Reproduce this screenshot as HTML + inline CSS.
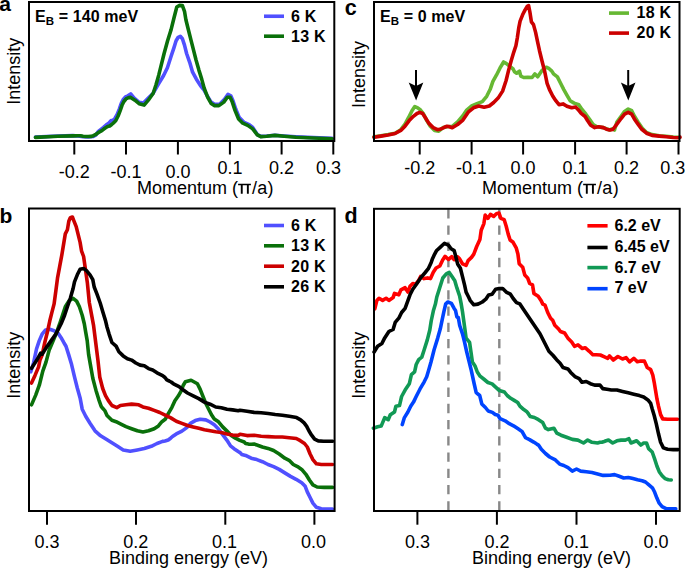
<!DOCTYPE html>
<html><head><meta charset="utf-8"><style>
html,body{margin:0;padding:0;background:#fff;}
svg{display:block;}
text{font-family:"Liberation Sans",sans-serif;fill:#000;}
</style></head><body>
<svg width="685" height="568" viewBox="0 0 685 568">
<rect width="685" height="568" fill="#fff"/>
<g id="pa">
<polyline points="35.5,137.1 57.9,136.0 72.9,135.6 78.0,136.0 83.1,136.7 88.2,136.9 93.3,136.5 95.9,134.9 98.4,131.4 101.0,129.3 103.5,127.3 106.1,125.0 108.7,123.2 111.2,120.6 113.0,120.3 114.9,118.4 117.3,114.2 119.2,109.3 121.2,103.5 123.1,99.7 125.5,96.8 127.9,95.8 130.7,93.9 134.2,98.1 139.1,102.3 143.4,103.0 148.3,98.1 153.2,93.2 158.1,84.7 163.6,75.5 167.4,67.7 171.1,56.3 173.9,47.9 176.1,40.8 178.2,37.3 180.3,36.3 182.4,38.7 184.5,45.1 186.6,53.5 189.7,62.3 192.6,72.2 196.4,79.2 200.6,85.9 204.1,90.1 207.6,96.5 211.1,102.1 214.6,104.2 219.6,104.2 224.5,99.3 228.0,94.4 230.8,95.8 233.0,100.7 235.8,109.2 239.3,117.6 244.2,122.5 249.2,124.6 252.7,127.5 257.3,134.6 260.8,136.4 266.7,136.0 274.9,135.2 284.2,136.0 295.9,136.8 307.6,137.4 319.2,137.8 332.1,138.3" fill="none" stroke="#5050ff" stroke-width="3.6" stroke-linejoin="round" stroke-linecap="round"/>
<polyline points="35.5,137.4 57.9,136.3 72.9,135.9 78.0,135.7 80.6,135.7 83.1,136.2 85.7,136.5 88.2,136.5 90.8,136.4 93.3,135.7 95.4,134.7 97.4,133.2 99.5,131.9 101.5,130.9 103.5,129.3 105.6,127.8 107.6,126.5 109.7,126.0 111.7,124.5 113.2,123.2 115.7,120.8 118.1,116.0 120.0,111.1 122.0,105.3 123.9,101.5 126.3,98.6 128.7,97.6 130.7,97.4 134.9,100.2 139.1,103.7 144.1,105.1 148.3,100.2 153.2,93.2 156.0,84.7 158.8,74.9 160.6,67.6 164.1,53.5 167.6,40.8 171.1,29.6 173.9,18.3 176.8,7.0 179.6,5.4 182.4,5.6 184.5,11.3 185.9,19.7 188.0,28.2 190.8,39.4 193.6,50.4 196.1,60.2 198.9,70.1 201.7,79.1 204.1,88.0 207.6,97.2 211.1,103.5 214.6,105.6 218.9,105.6 223.8,102.1 227.3,97.2 230.1,97.2 232.3,102.1 235.1,110.6 238.6,119.0 242.8,123.2 247.7,125.4 252.7,128.9 257.3,134.8 260.8,136.6 266.7,136.2 274.9,135.4 284.2,136.2 295.9,137.2 307.6,137.8 319.2,138.3 332.1,138.9" fill="none" stroke="#0a700a" stroke-width="3.6" stroke-linejoin="round" stroke-linecap="round"/>
</g>
<g id="pc">
<polyline points="374.0,136.8 381.0,135.8 388.1,134.6 395.1,133.2 400.8,129.7 405.0,124.1 408.5,117.7 412.0,110.7 414.8,106.5 417.7,107.9 420.5,110.0 423.3,113.5 426.8,120.6 430.3,126.2 434.6,130.4 438.8,131.1 443.0,127.6 447.1,126.8 452.3,126.3 457.6,121.9 462.9,115.7 466.4,110.4 471.7,106.0 477.0,103.7 482.3,101.6 486.7,96.3 490.2,89.3 492.9,81.4 496.4,75.2 499.9,68.2 503.6,62.0 506.1,63.4 509.6,66.2 513.1,69.0 514.5,71.8 516.6,73.2 519.4,71.1 520.8,76.1 523.7,77.5 527.9,77.2 532.1,77.5 534.9,73.9 537.7,76.8 542.0,70.4 546.2,67.2 549.2,68.7 551.8,71.1 553.5,73.8 557.4,76.9 560.6,83.3 563.8,89.6 566.9,95.2 570.1,100.7 574.1,103.1 578.8,104.7 582.0,109.4 585.9,114.2 589.9,119.7 593.1,124.5 597.0,126.8 603.4,127.6 609.7,130.0 612.7,128.7 614.5,130.0 616.9,122.0 621.1,116.3 624.6,111.4 628.2,109.0 631.7,110.7 634.5,116.3 638.0,122.0 642.3,128.3 646.5,132.5 652.1,134.6 659.2,135.8 666.2,136.3 673.2,137.0 678.2,137.2" fill="none" stroke="#66b833" stroke-width="3.6" stroke-linejoin="round" stroke-linecap="round"/>
<polyline points="374.0,137.2 381.0,136.1 388.1,134.9 395.1,133.5 400.8,130.4 405.0,126.2 409.2,120.6 413.4,116.3 417.0,113.5 419.8,112.4 422.6,113.5 425.4,117.7 428.9,123.4 433.2,127.6 437.4,129.7 440.9,129.0 444.4,127.3 447.0,126.3 448.6,126.5 452.3,127.7 457.6,124.5 462.9,120.1 468.2,112.2 473.5,107.8 478.8,106.0 484.1,107.3 489.3,106.0 493.7,102.5 498.1,98.1 502.6,91.1 506.1,80.5 508.7,69.9 511.2,60.7 513.8,52.1 515.9,45.8 517.3,38.0 518.7,28.2 520.1,21.1 522.6,14.8 525.1,9.9 527.2,6.3 528.6,5.6 530.0,12.7 531.4,21.8 533.5,24.6 535.6,32.4 537.7,42.3 539.5,50.7 542.2,61.7 544.5,70.7 547.1,83.3 549.5,89.6 552.7,96.0 555.8,100.7 559.0,104.7 563.0,103.9 566.9,106.2 571.7,107.8 575.6,107.0 578.0,109.4 581.2,113.4 585.1,116.5 587.5,120.5 590.7,125.3 594.7,127.6 598.6,126.8 603.4,127.6 606.5,129.2 609.7,130.0 612.8,129.5 616.9,124.1 621.1,118.5 624.6,114.2 628.2,112.4 631.7,114.2 634.5,119.2 638.0,124.1 641.5,129.0 646.5,133.2 652.1,135.4 659.2,136.1 666.2,136.8 673.2,137.5 678.2,137.7 680.0,137.2" fill="none" stroke="#cc0000" stroke-width="3.6" stroke-linejoin="round" stroke-linecap="round"/>
</g>
<g id="pb">
<polyline points="30.8,371.8 33.6,362.7 36.5,349.0 39.3,340.6 42.1,334.2 45.6,330.0 49.8,329.3 54.1,330.7 58.3,333.5 61.1,337.7 63.9,342.7 66.0,346.2 68.8,355.1 71.3,363.4 74.5,376.8 77.3,388.0 80.1,397.9 82.2,409.2 85.7,416.2 90.0,423.2 95.0,430.8 100.6,435.8 106.3,439.3 111.9,442.8 117.5,446.3 123.2,449.9 130.2,451.3 137.3,449.9 144.3,448.5 151.3,446.3 157.0,443.5 162.6,441.4 165.0,441.0 168.2,440.0 170.6,438.2 172.5,436.5 176.3,433.9 181.9,431.1 186.8,427.6 190.4,423.4 195.3,420.6 200.2,419.2 205.8,419.9 210.1,422.0 214.3,424.8 218.5,429.0 222.7,434.6 227.0,440.3 230.5,445.9 234.0,448.7 238.2,451.5 240.0,452.6 241.8,454.4 245.6,455.4 251.2,458.2 256.8,459.6 262.4,461.7 268.0,464.5 273.6,466.6 279.2,469.4 284.8,472.9 290.5,476.4 296.1,479.3 301.7,482.8 305.2,486.3 307.3,491.9 310.1,497.5 312.9,503.1 316.4,507.3 321.3,508.7 326.9,509.0 332.5,509.0" fill="none" stroke="#5050ff" stroke-width="3.6" stroke-linejoin="round" stroke-linecap="round"/>
<polyline points="31.5,404.9 35.7,395.1 39.3,385.2 42.8,371.1 46.0,362.1 49.1,350.4 52.6,342.0 56.2,333.5 59.7,323.7 62.5,315.2 65.3,306.8 68.8,301.1 73.1,298.3 76.6,301.1 79.4,306.8 82.2,315.2 84.3,323.7 85.7,332.1 87.2,340.6 88.6,354.4 90.3,364.1 92.8,378.2 96.0,390.4 98.8,399.6 101.2,406.3 102.7,408.3 104.8,410.6 107.0,415.4 111.9,420.3 116.1,421.7 120.4,423.8 126.0,426.6 131.6,428.7 137.3,430.8 142.9,432.0 148.5,430.8 154.2,428.7 158.4,425.9 161.9,421.7 165.2,419.3 168.4,413.3 171.9,407.3 174.9,400.7 178.4,395.8 181.2,390.8 183.3,385.2 185.4,381.7 191.1,380.3 197.4,383.8 200.2,389.4 203.0,396.5 205.8,403.5 208.7,409.2 211.5,414.8 214.3,419.0 218.5,421.8 222.7,426.9 227.0,431.1 231.2,435.4 235.4,438.2 239.8,440.4 244.2,442.0 245.6,443.5 248.5,444.1 251.2,444.2 254.1,444.1 256.8,444.9 258.3,445.5 262.4,447.0 268.0,448.4 273.6,450.5 279.2,454.0 284.8,458.2 289.1,460.3 293.3,464.5 297.5,466.6 301.7,469.4 305.9,474.3 309.4,480.0 312.9,484.9 317.1,487.0 324.1,487.4 332.5,487.4" fill="none" stroke="#0a700a" stroke-width="3.6" stroke-linejoin="round" stroke-linecap="round"/>
<polyline points="31.5,383.1 35.0,375.4 38.6,366.9 40.0,360.0 42.1,355.1 44.9,342.0 47.7,330.7 49.8,320.8 51.9,312.4 54.1,303.9 55.9,290.6 57.6,277.6 59.7,266.3 61.8,255.1 63.9,242.4 65.3,233.9 67.4,229.7 68.8,221.3 70.3,217.7 72.4,217.0 73.8,220.6 76.2,226.6 78.0,233.9 80.1,242.4 81.5,250.8 83.6,256.5 85.0,266.3 87.4,283.1 89.3,302.5 91.4,313.8 93.5,325.1 97.9,359.9 99.8,377.2 102.7,388.5 105.5,395.6 108.4,400.6 111.9,405.5 116.8,407.6 120.4,405.5 126.0,404.8 131.6,404.1 138.7,404.8 142.9,406.9 148.5,408.3 154.2,410.4 159.8,412.5 165.2,415.1 170.8,417.9 176.3,421.3 181.9,423.4 187.5,425.5 193.2,426.9 198.8,428.3 204.4,429.7 210.1,430.8 215.7,431.8 221.3,432.5 227.0,433.9 232.6,435.1 238.2,435.4 240.0,434.2 247.0,435.6 254.1,435.2 261.1,436.3 268.2,436.6 275.2,437.0 282.3,437.0 289.3,437.7 296.3,438.5 300.3,440.7 304.5,443.5 307.3,447.0 310.1,454.0 312.9,459.6 316.4,463.8 321.3,464.5 326.9,464.5 332.5,464.5" fill="none" stroke="#cc0000" stroke-width="3.6" stroke-linejoin="round" stroke-linecap="round"/>
<polyline points="31.5,368.3 36.5,360.6 40.7,353.2 42.1,354.2 46.3,347.6 51.2,340.6 56.2,333.5 61.1,323.7 64.6,315.2 67.4,306.8 70.3,298.3 73.1,288.5 74.5,281.8 77.3,274.8 80.1,269.2 83.6,268.5 86.5,270.6 90.0,274.8 92.8,279.7 94.2,287.0 97.0,294.1 100.2,303.0 102.7,311.5 105.5,320.6 107.0,327.0 109.1,334.1 111.9,342.5 116.1,346.1 118.9,351.7 123.2,355.9 127.4,358.7 131.6,360.1 135.8,363.0 140.1,365.1 144.3,365.8 148.5,368.6 152.7,370.0 157.0,372.8 162.6,375.6 165.0,377.5 166.8,379.9 169.2,381.0 171.1,382.0 173.5,383.8 179.1,386.6 183.3,390.1 187.5,393.0 193.2,395.8 198.8,398.6 204.4,402.1 210.1,404.2 215.7,407.0 221.3,407.7 227.0,409.2 232.6,409.9 238.2,410.8 240.0,410.3 247.0,411.3 254.1,412.4 261.1,412.7 268.2,413.5 275.2,414.5 282.3,415.2 289.3,416.3 296.6,417.6 300.6,419.8 304.1,422.9 306.7,426.4 308.9,430.8 311.6,435.2 314.6,439.2 318.2,440.9 323.5,441.2 328.7,441.2 332.7,441.2" fill="none" stroke="#000" stroke-width="3.6" stroke-linejoin="round" stroke-linecap="round"/>
</g>
<g id="pd">
<line x1="448.4" y1="209.2" x2="448.4" y2="511" stroke="#888" stroke-width="2.4" stroke-dasharray="9.3 6.92"/>
<line x1="499.3" y1="209.2" x2="499.3" y2="511" stroke="#888" stroke-width="2.4" stroke-dasharray="9.3 6.92"/>
<polyline points="374.8,308.9 376.9,300.4 379.0,298.3 382.6,300.4 386.1,298.3 388.9,300.4 393.1,297.6 394.5,293.4 398.8,294.8 400.9,289.9 405.1,287.7 407.9,292.0 410.0,286.3 412.8,283.5 415.7,284.2 418.5,280.7 420.6,276.5 424.1,278.6 427.6,277.9 430.5,278.6 433.3,272.3 436.1,268.0 439.8,266.0 442.8,259.7 445.1,256.4 448.4,259.5 451.8,256.7 454.1,259.7 456.3,257.1 457.6,256.9 459.6,258.8 462.5,263.9 466.1,265.4 468.1,260.6 471.5,257.4 473.8,254.1 476.7,246.5 479.9,239.4 481.2,230.2 483.9,223.6 485.2,215.1 487.8,218.4 490.4,214.4 493.7,216.4 496.4,213.8 499.0,213.1 500.9,218.4 504.2,219.7 506.2,226.3 508.2,234.1 510.1,240.0 513.1,242.3 516.2,247.8 517.9,253.9 519.2,263.8 522.7,267.3 524.8,275.1 527.6,277.9 529.7,283.5 532.5,284.9 533.9,293.4 538.2,296.2 541.0,300.4 542.8,304.1 545.0,305.1 547.7,312.5 550.6,318.2 552.7,320.3 554.8,325.2 558.3,328.7 560.4,331.5 564.6,333.0 568.2,338.6 571.7,342.1 574.5,346.3 578.0,344.9 582.3,348.5 585.1,347.7 589.3,351.3 592.8,354.8 596.3,354.8 600.3,355.0 604.5,356.9 607.7,358.3 609.5,355.9 613.3,360.0 617.9,356.5 622.5,359.0 626.1,357.6 629.6,361.8 633.8,358.3 637.3,361.8 640.8,361.1 644.4,361.1 647.2,367.5 650.7,369.6 652.8,375.2 654.2,382.3 655.6,390.7 657.0,399.2 658.5,406.2 660.6,414.6 662.7,418.9 667.6,419.2 673.2,419.2 677.5,419.2" fill="none" stroke="#ff0000" stroke-width="3.6" stroke-linejoin="round" stroke-linecap="round"/>
<polyline points="374.1,352.0 377.6,346.3 381.9,343.5 384.7,337.9 388.9,331.5 393.1,329.4 395.2,322.4 398.8,318.2 401.6,312.5 405.1,308.3 410.0,294.8 412.8,289.2 416.4,284.2 420.6,277.9 424.8,273.0 428.3,268.7 431.2,262.4 432.6,258.4 434.0,255.4 436.4,250.8 440.4,247.1 444.5,243.3 448.4,245.1 451.1,248.8 454.2,250.6 455.5,255.5 457.6,263.9 460.4,268.2 462.5,276.6 464.6,285.1 466.1,292.1 468.2,296.3 470.3,300.6 473.8,304.8 478.0,304.1 482.3,302.0 485.8,299.2 488.6,294.9 492.1,294.2 495.6,289.3 499.2,288.6 502.7,288.6 506.2,292.1 510.4,294.2 513.2,298.5 516.5,302.6 519.9,303.9 522.7,308.2 540.0,333.7 542.8,339.3 548.9,351.3 553.1,355.5 556.6,359.7 560.1,363.2 563.0,367.5 567.9,368.9 570.7,372.4 574.9,376.6 579.2,378.7 582.0,382.3 586.2,381.5 590.4,383.7 594.6,385.1 600.0,385.1 602.8,388.6 607.0,389.3 611.3,390.0 616.9,390.0 622.5,391.4 628.2,392.8 633.8,394.2 639.4,395.6 643.7,397.0 647.9,399.9 650.7,403.4 652.1,408.5 654.2,415.5 656.3,423.9 658.5,433.8 660.6,442.3 663.4,447.9 667.6,449.3 673.2,449.6 678.2,449.6" fill="none" stroke="#000" stroke-width="3.6" stroke-linejoin="round" stroke-linecap="round"/>
<polyline points="373.4,428.2 377.6,426.8 381.2,426.1 384.7,417.6 388.2,419.7 390.3,414.8 394.5,412.0 395.9,406.3 399.5,405.6 401.6,396.5 405.1,390.1 409.3,383.8 411.4,374.6 414.6,371.9 416.2,364.5 418.7,359.6 421.8,357.1 424.2,349.7 427.3,339.9 429.8,330.0 431.2,321.0 433.3,311.1 435.4,304.1 436.8,297.0 442.8,278.0 446.3,273.8 449.2,272.4 452.0,276.6 454.8,280.8 456.9,287.9 459.7,296.3 461.1,303.4 462.5,311.8 464.6,326.9 466.1,338.2 469.6,342.4 471.0,352.3 472.4,362.1 475.2,366.3 477.3,372.0 480.1,376.2 483.7,379.0 487.9,382.5 492.1,383.9 499.4,390.6 504.4,392.0 507.2,395.5 510.7,398.3 514.2,400.4 517.7,402.5 519.9,406.1 523.8,409.6 526.9,411.7 528.5,413.9 530.2,416.4 534.4,417.5 538.5,419.7 542.7,422.5 545.5,428.2 548.3,429.6 553.9,428.2 556.8,433.1 561.0,435.2 566.6,437.3 572.3,439.4 577.9,440.1 583.5,443.0 587.7,440.1 592.0,442.3 597.6,443.0 600.0,442.3 601.8,442.3 604.2,441.5 606.1,440.8 608.5,440.1 612.7,443.0 616.9,440.8 621.1,440.1 625.4,440.1 628.9,438.7 631.0,443.0 636.6,440.8 640.8,445.1 643.7,443.0 646.5,443.0 648.6,448.6 652.2,452.0 654.7,459.2 656.9,466.0 659.2,471.7 662.1,475.7 665.0,478.6 668.4,479.8 671.3,480.0" fill="none" stroke="#119955" stroke-width="3.6" stroke-linejoin="round" stroke-linecap="round"/>
<polyline points="402.3,424.6 404.4,417.6 407.9,412.0 410.7,406.3 413.5,402.1 416.2,396.5 419.9,389.2 424.2,381.8 426.7,376.8 428.5,370.7 431.0,362.0 434.1,349.7 437.7,338.1 440.3,328.8 442.2,319.6 443.9,311.7 445.7,303.8 447.9,302.0 451.4,303.4 454.0,308.2 455.5,310.4 456.9,317.0 458.3,317.5 459.7,325.5 462.5,333.9 464.6,342.4 466.8,352.3 468.9,360.7 471.0,369.2 474.0,383.0 476.2,392.7 479.7,395.5 481.8,403.9 485.4,407.5 488.2,411.0 492.4,412.4 495.2,414.5 498.0,415.2 500.1,418.7 505.1,420.8 509.3,423.7 513.5,425.8 517.7,428.6 522.0,431.4 525.5,437.7 529.5,439.6 533.7,442.1 536.8,444.1 538.5,445.1 541.3,449.3 545.5,453.5 549.7,457.0 555.4,459.9 559.6,464.1 563.8,465.5 568.0,467.6 572.3,471.1 576.5,469.0 580.7,471.1 586.3,471.8 592.0,472.5 597.6,473.9 603.2,475.4 610.0,475.2 614.6,474.6 619.2,476.3 623.7,478.0 628.3,477.5 632.9,478.6 637.5,479.8 642.1,480.7 645.5,482.0 648.9,484.9 652.4,487.8 654.7,492.3 656.9,498.1 659.2,503.2 662.1,506.6 666.1,508.6 670.7,508.9 675.8,508.9" fill="none" stroke="#0044ff" stroke-width="3.6" stroke-linejoin="round" stroke-linecap="round"/>
</g>


<g stroke="#000" stroke-width="2" fill="none">
<rect x="29" y="2" width="305.3" height="139"/>
<rect x="374" y="2" width="305.5" height="139"/>
<rect x="29" y="208.5" width="305.6" height="302.5"/>
<rect x="374" y="208.8" width="305.7" height="302.2"/>
<line x1="74.3" y1="141" x2="74.3" y2="154.5"/><line x1="126" y1="141" x2="126" y2="154.5"/><line x1="177.9" y1="141" x2="177.9" y2="154.5"/><line x1="229.9" y1="141" x2="229.9" y2="154.5"/><line x1="281.6" y1="141" x2="281.6" y2="154.5"/><line x1="333.3" y1="141" x2="333.3" y2="154.5"/>
<line x1="419.7" y1="141" x2="419.7" y2="154.5"/><line x1="471.6" y1="141" x2="471.6" y2="154.5"/><line x1="523.1" y1="141" x2="523.1" y2="154.5"/><line x1="575.1" y1="141" x2="575.1" y2="154.5"/><line x1="626.6" y1="141" x2="626.6" y2="154.5"/><line x1="678.5" y1="141" x2="678.5" y2="154.5"/>
<line x1="47" y1="511" x2="47" y2="524.7"/><line x1="136" y1="511" x2="136" y2="524.7"/><line x1="225.3" y1="511" x2="225.3" y2="524.7"/><line x1="314.4" y1="511" x2="314.4" y2="524.7"/>
<line x1="417.4" y1="511" x2="417.4" y2="524.7"/><line x1="496.9" y1="511" x2="496.9" y2="524.7"/><line x1="576.5" y1="511" x2="576.5" y2="524.7"/><line x1="656" y1="511" x2="656" y2="524.7"/>
</g>
<line x1="416" y1="70" x2="416" y2="88" stroke="#000" stroke-width="2"/><polygon points="408.7,82.6 416,86 423.3,82.4 416.1,100.4" fill="#000"/><line x1="628.2" y1="70" x2="628.2" y2="88" stroke="#000" stroke-width="2"/><polygon points="620.9000000000001,82.6 628.2,86 635.5,82.4 628.3000000000001,100.4" fill="#000"/>
<line x1="264" y1="16.25" x2="284" y2="16.25" stroke="#5050ff" stroke-width="3.6"/><line x1="264" y1="36.2" x2="284" y2="36.2" stroke="#0a700a" stroke-width="3.6"/><line x1="609" y1="13.1" x2="629" y2="13.1" stroke="#66b833" stroke-width="3.6"/><line x1="609" y1="33.1" x2="629" y2="33.1" stroke="#cc0000" stroke-width="3.6"/><line x1="264" y1="225.5" x2="284" y2="225.5" stroke="#5050ff" stroke-width="3.6"/><line x1="264" y1="245.8" x2="284" y2="245.8" stroke="#0a700a" stroke-width="3.6"/><line x1="264" y1="266.2" x2="284" y2="266.2" stroke="#cc0000" stroke-width="3.6"/><line x1="264" y1="286.8" x2="284" y2="286.8" stroke="#000" stroke-width="3.6"/><line x1="587.4" y1="225.8" x2="607.6" y2="225.8" stroke="#ff0000" stroke-width="3.6"/><line x1="587.4" y1="247.5" x2="607.6" y2="247.5" stroke="#000" stroke-width="3.6"/><line x1="587.4" y1="267.6" x2="607.6" y2="267.6" stroke="#119955" stroke-width="3.6"/><line x1="587.4" y1="288.7" x2="607.6" y2="288.7" stroke="#0044ff" stroke-width="3.6"/>
<text x="-0.8" y="11.4" font-size="21" font-weight="bold" text-anchor="start" >a</text><text x="344.8" y="14.6" font-size="21.5" font-weight="bold" text-anchor="start" >c</text><text x="-0.5" y="223" font-size="21" font-weight="bold" text-anchor="start" >b</text><text x="344.6" y="223" font-size="21.5" font-weight="bold" text-anchor="start" >d</text><text x="35" y="22.1" font-size="16" font-weight="bold" text-anchor="start" letter-spacing="0.1">E<tspan font-size="11.5" dy="3">B</tspan><tspan dy="-3"> = 140 meV</tspan></text><text x="380" y="22.1" font-size="16" font-weight="bold" text-anchor="start" letter-spacing="0.1">E<tspan font-size="11.5" dy="3">B</tspan><tspan dy="-3"> = 0 meV</tspan></text><text x="291" y="21.6" font-size="16" font-weight="bold" text-anchor="start" letter-spacing="0.25">6 K</text><text x="291" y="41.7" font-size="16" font-weight="bold" text-anchor="start" letter-spacing="0.25">13 K</text><text x="636.5" y="17.8" font-size="16" font-weight="bold" text-anchor="start" letter-spacing="0.25">18 K</text><text x="636.5" y="38.2" font-size="16" font-weight="bold" text-anchor="start" letter-spacing="0.25">20 K</text><text x="291" y="230.9" font-size="16" font-weight="bold" text-anchor="start" letter-spacing="0.25">6 K</text><text x="291" y="251.25" font-size="16" font-weight="bold" text-anchor="start" letter-spacing="0.25">13 K</text><text x="291" y="271.6" font-size="16" font-weight="bold" text-anchor="start" letter-spacing="0.25">20 K</text><text x="291" y="291.95" font-size="16" font-weight="bold" text-anchor="start" letter-spacing="0.25">26 K</text><text x="614.5" y="231.4" font-size="16" font-weight="bold" text-anchor="start" >6.2 eV</text><text x="614.5" y="252.0" font-size="16" font-weight="bold" text-anchor="start" >6.45 eV</text><text x="614.5" y="272.6" font-size="16" font-weight="bold" text-anchor="start" >6.7 eV</text><text x="614.5" y="293.2" font-size="16" font-weight="bold" text-anchor="start" >7 eV</text><text x="74.3" y="177.6" font-size="18" font-weight="normal" text-anchor="middle" >-0.2</text><text x="126" y="177.6" font-size="18" font-weight="normal" text-anchor="middle" >-0.1</text><text x="177.9" y="177.6" font-size="18" font-weight="normal" text-anchor="middle" >0.0</text><text x="229.9" y="174.1" font-size="18" font-weight="normal" text-anchor="middle" >0.1</text><text x="281.6" y="174.1" font-size="18" font-weight="normal" text-anchor="middle" >0.2</text><text x="328.6" y="174.1" font-size="18" font-weight="normal" text-anchor="middle" >0.3</text><text x="419.7" y="174.3" font-size="18" font-weight="normal" text-anchor="middle" >-0.2</text><text x="471.6" y="174.3" font-size="18" font-weight="normal" text-anchor="middle" >-0.1</text><text x="523.1" y="174.3" font-size="18" font-weight="normal" text-anchor="middle" >0.0</text><text x="575.1" y="174.3" font-size="18" font-weight="normal" text-anchor="middle" >0.1</text><text x="626.6" y="174.3" font-size="18" font-weight="normal" text-anchor="middle" >0.2</text><text x="672.8" y="174.3" font-size="18" font-weight="normal" text-anchor="middle" >0.3</text><text x="47" y="548" font-size="18" font-weight="normal" text-anchor="middle" >0.3</text><text x="135.8" y="548" font-size="18" font-weight="normal" text-anchor="middle" >0.2</text><text x="224.4" y="548" font-size="18" font-weight="normal" text-anchor="middle" >0.1</text><text x="313.5" y="548" font-size="18" font-weight="normal" text-anchor="middle" >0.0</text><text x="417.4" y="547.7" font-size="18" font-weight="normal" text-anchor="middle" >0.3</text><text x="496.9" y="547.7" font-size="18" font-weight="normal" text-anchor="middle" >0.2</text><text x="576.5" y="547.7" font-size="18" font-weight="normal" text-anchor="middle" >0.1</text><text x="656" y="547.7" font-size="18" font-weight="normal" text-anchor="middle" >0.0</text><text x="137" y="193.7" font-size="18" font-weight="normal" text-anchor="start" >Momentum (</text><text x="252" y="193.7" font-size="18" font-weight="normal" text-anchor="start" letter-spacing="0.3">/a)</text><path d="M238.1 183.8h12.8v1.4h-12.8z M240.8 183.8h1.9v9.9h-1.9z M246.9 183.8h1.9v9.9h-1.9z" fill="#000"/><text x="482.05" y="193.7" font-size="18" font-weight="normal" text-anchor="start" >Momentum (</text><text x="597.05" y="193.7" font-size="18" font-weight="normal" text-anchor="start" letter-spacing="0.3">/a)</text><path d="M583.15 183.8h12.8v1.4h-12.8z M585.85 183.8h1.9v9.9h-1.9z M591.95 183.8h1.9v9.9h-1.9z" fill="#000"/><text x="109" y="564.2" font-size="18" font-weight="normal" text-anchor="start" >Binding energy (eV)</text><text x="472" y="563.8" font-size="18" font-weight="normal" text-anchor="start" >Binding energy (eV)</text><text x="0" y="0" font-size="18" font-weight="normal" text-anchor="start" transform="translate(20,104.7) rotate(-90)">Intensity</text><text x="0" y="0" font-size="18" font-weight="normal" text-anchor="start" transform="translate(364.8,108) rotate(-90)">Intensity</text><text x="0" y="0" font-size="18" font-weight="normal" text-anchor="start" transform="translate(20,398.8) rotate(-90)">Intensity</text><text x="0" y="0" font-size="18" font-weight="normal" text-anchor="start" transform="translate(364.8,398.8) rotate(-90)">Intensity</text>
</svg>
</body></html>
